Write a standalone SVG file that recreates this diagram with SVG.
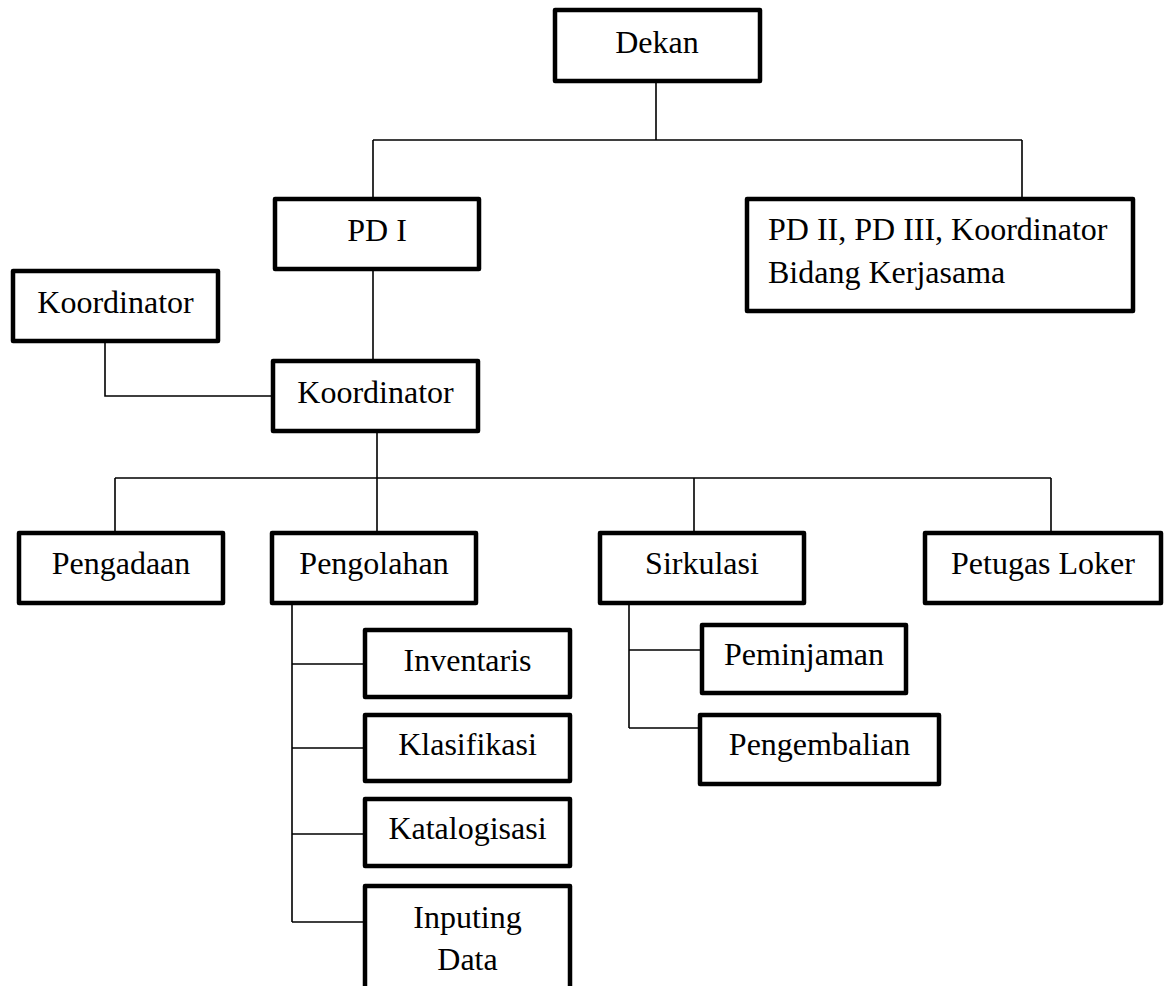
<svg xmlns="http://www.w3.org/2000/svg" width="1167" height="986" viewBox="0 0 1167 986">
<style>
.box{fill:#fff;stroke:#000;stroke-width:4.5;stroke-linejoin:round}
.t{font-family:"Liberation Serif","Times New Roman",serif;font-size:32px;fill:#000;text-anchor:middle}
.l{text-anchor:start}
.c{fill:none;stroke:#000;stroke-width:1.6}
</style>
<rect width="1167" height="986" fill="#fff"/>
<g id="connectors">
<path class="c" d="M656,83V140M373,140H1022M373,140V197M1022,140V197"/>
<path class="c" d="M373,271V359"/>
<path class="c" d="M105,343V396H271"/>
<path class="c" d="M377,433V531M115,478H1051M115,478V531M694,478V532M1051,478V532"/>
<path class="c" d="M292,605V922M292,664H363M292,748H363M292,834H363M292,922H363"/>
<path class="c" d="M629,604V728M629,650H700M629,728H698"/>
</g>
<g id="dekan"><rect class="box" x="555" y="10" width="205" height="71"/><text class="t" x="657" y="53">Dekan</text></g>
<g id="pd1"><rect class="box" x="275" y="199" width="204" height="70"/><text class="t" x="377" y="241">PD I</text></g>
<g id="pd2"><rect class="box" x="747" y="199" width="386" height="112"/><text class="t l" x="768" y="240">PD II, PD III, Koordinator</text><text class="t l" x="768" y="283">Bidang Kerjasama</text></g>
<g id="koordinator-left"><rect class="box" x="13" y="271" width="205" height="70"/><text class="t" x="115.5" y="313">Koordinator</text></g>
<g id="koordinator"><rect class="box" x="273" y="361" width="205" height="70"/><text class="t" x="375.5" y="403">Koordinator</text></g>
<g id="pengadaan"><rect class="box" x="19" y="533" width="204" height="70"/><text class="t" x="121" y="574">Pengadaan</text></g>
<g id="pengolahan"><rect class="box" x="272" y="533" width="204" height="70"/><text class="t" x="374" y="574">Pengolahan</text></g>
<g id="sirkulasi"><rect class="box" x="600" y="533" width="204" height="70"/><text class="t" x="702" y="574">Sirkulasi</text></g>
<g id="petugas-loker"><rect class="box" x="925" y="533" width="236" height="70"/><text class="t" x="1043" y="574">Petugas Loker</text></g>
<g id="inventaris"><rect class="box" x="365" y="630" width="205" height="67"/><text class="t" x="467.5" y="671">Inventaris</text></g>
<g id="klasifikasi"><rect class="box" x="365" y="715" width="205" height="66"/><text class="t" x="467.5" y="755">Klasifikasi</text></g>
<g id="katalogisasi"><rect class="box" x="365" y="799" width="205" height="67"/><text class="t" x="467.5" y="839">Katalogisasi</text></g>
<g id="inputing-data"><rect class="box" x="365" y="886" width="205" height="110"/><text class="t" x="467.5" y="928">Inputing</text><text class="t" x="467.5" y="970">Data</text></g>
<g id="peminjaman"><rect class="box" x="702" y="625" width="204" height="68"/><text class="t" x="804" y="665">Peminjaman</text></g>
<g id="pengembalian"><rect class="box" x="700" y="715" width="239" height="69"/><text class="t" x="819.5" y="755">Pengembalian</text></g>
</svg>
